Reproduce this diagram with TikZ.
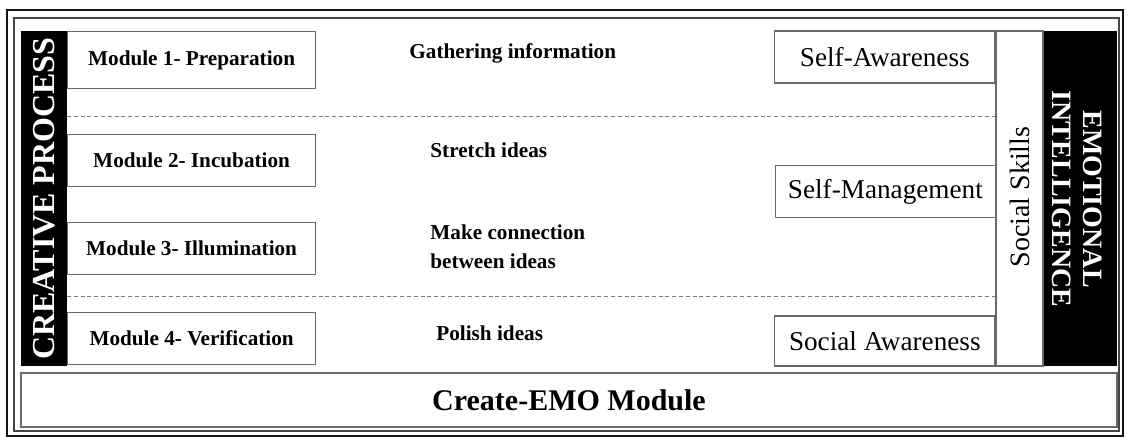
\documentclass[tikz,border=0pt]{standalone}
\usepackage{fontspec}
\setmainfont{Liberation Serif}
\usepackage{tikz}
\usetikzlibrary{positioning}
\definecolor{frameInk}{RGB}{20,20,20}
\definecolor{frameGrey}{RGB}{70,70,70}
\definecolor{boxEdge}{RGB}{105,105,105}
\definecolor{sepLine}{RGB}{125,125,125}
\tikzset{
  % plain white box with a grey rim; the size comes from the styles below
  box/.style={
    draw=boxEdge, line width=0.6pt, fill=white,
    align=center, inner sep=0pt, text=black
  },
  module/.style={box, font=\fontsize{10.6}{12}\selectfont\bfseries,
                 minimum width=124pt, minimum height=26pt},
  skill/.style={box, font=\fontsize{13.6}{16}\selectfont,
                minimum width=110pt, minimum height=26pt},
  % the black side bands and their white titles
  band/.style={fill=black, draw=none, inner sep=0pt},
  bandtext/.style={text=white, font=\bfseries, align=center, inner sep=0pt},
  % captions of the middle column
  tag/.style={font=\fontsize{10.6}{14.5}\selectfont\bfseries,
              align=left, inner sep=0pt, anchor=west},
  % the dashed separators between the stages
  sep/.style={draw=sepLine, line width=0.5pt, dashed, dash pattern=on 2pt off 1.4pt},
}

\begin{document}
\begin{tikzpicture}[x=0.5pt, y=-0.5pt]

\useasboundingbox (0,0) rectangle (1128,441);

% ------------------------------- double frame ------------------------------
\draw[draw=frameInk, line width=1.2pt] (7,10) rectangle (1123,436);
\draw[draw=frameGrey, line width=0.8pt] (14,18) rectangle (1119,431);

% ------------------------------- side bands --------------------------------
\node[band, minimum width=23pt, minimum height=167.5pt] (cpband) at (44,198.5) {};
\node[bandtext, rotate=90, font=\fontsize{16}{18}\selectfont\bfseries]
      (cptext) at (cpband.center) {CREATIVE PROCESS};

\node[band, minimum width=37pt, minimum height=167.5pt] (eiband) at (1080,198.5) {};
\node[bandtext, rotate=-90, font=\fontsize{14}{15.5}\selectfont\bfseries]
      (eitext) at (1077,199) {EMOTIONAL\\INTELLIGENCE};

\node[box, minimum width=23.5pt, minimum height=167.5pt] (skills) at (1019.5,198.5) {};
\node[rotate=90, inner sep=0pt, font=\fontsize{14}{16}\selectfont]
      (skillstext) at (1020,197) {Social Skills};

% ------------------------------- the four modules --------------------------
\node[module, minimum height=28.5pt, anchor=north west] (m1) at (67,31)
      {Module 1- Preparation};
\node[module, below=22.4pt of m1.south west, anchor=north west] (m2)
      {Module 2- Incubation};
\node[module, below=17.2pt of m2.south west, anchor=north west] (m3)
      {Module 3- Illumination};
\node[module, below=18.6pt of m3.south west, anchor=north west] (m4)
      {Module 4- Verification};

% ------------------------------- middle captions ---------------------------
\node[tag] (t1) at (409,53)  {Gathering information};
\node[tag] (t2) at (430,150) {Stretch ideas};
\node[tag] (t3) at (430,247) {Make connection\\between ideas};
\node[tag] (t4) at (436,333) {Polish ideas};

% ------------------------------- emotional skills --------------------------
\node[skill, anchor=north east] (sa) at (skills.north west) {Self-Awareness};
\node[skill, anchor=north east] (sm) at (996,165) {Self-Management};
\node[skill, minimum height=25pt, anchor=south east] (soa) at (skills.south west)
      {Social Awareness};

% ------------------------------- separators --------------------------------
\coordinate (s1) at (67,116);
\coordinate (s2) at (67,296);
\draw[sep] (s1) -- (s1 -| skills.west);
\draw[sep] (s2) -- (s2 -| skills.west);

% ------------------------------- base box ----------------------------------
\node[box, minimum width=548pt, minimum height=27pt,
      font=\fontsize{15}{18}\selectfont\bfseries] (base) at (569,400)
      {Create-EMO Module};

\end{tikzpicture}
\end{document}
